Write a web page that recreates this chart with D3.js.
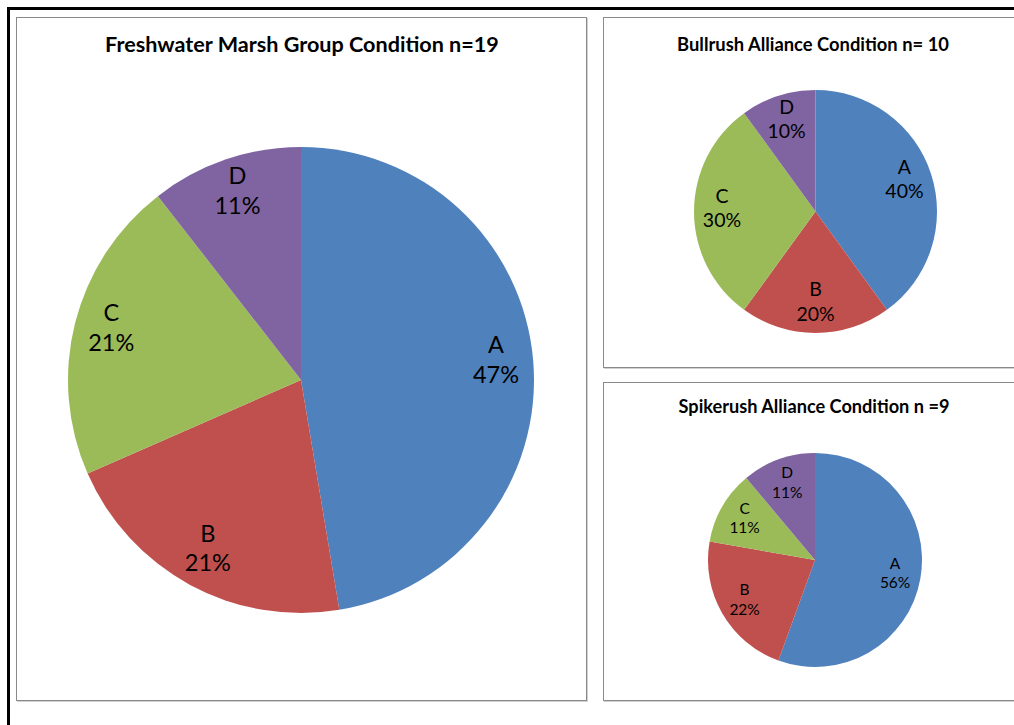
<!DOCTYPE html>
<html><head><meta charset="utf-8">
<script src="https://cdn.jsdelivr.net/npm/d3@7"></script>
<style>html,body{margin:0;padding:0;background:#fff;}svg{display:block;}</style>
</head><body>
<svg id="c" width="1014" height="725"></svg>
<script>
const categories = ["A", "B", "C", "D"];
const freshwaterCounts = [9, 4, 4, 2];
const bullrushCounts = [4, 2, 3, 1];
const spikerushCounts = [5, 2, 1, 1];
const titles = ["Freshwater Marsh Group Condition n=19", "Bullrush Alliance Condition n= 10", "Spikerush Alliance Condition n =9"];
const colors = ["#4F81BD", "#C0504D", "#9BBB59", "#8064A2"];

const svg = d3.select("#c");
const FONT = "Lato, 'Open Sans', sans-serif";

// outer frame
svg.append("rect").attr("x", 8.5).attr("y", 8.5).attr("width", 1030).attr("height", 740)
  .attr("fill", "none").attr("stroke", "#000").attr("stroke-width", 3);

function panel(x, y, w, h) {
  svg.append("rect").attr("x", x + 1.5).attr("y", y + 1.5).attr("width", w).attr("height", h)
    .attr("fill", "none").attr("stroke", "#d0d0d0").attr("stroke-width", 1);
  svg.append("rect").attr("x", x + 0.5).attr("y", y + 0.5).attr("width", w).attr("height", h)
    .attr("fill", "#fff").attr("stroke", "#8a8a8a").attr("stroke-width", 1);
}
panel(16, 17, 570, 683);
panel(603, 17, 430, 350);
panel(603, 382, 430, 318);

function fitText(sel, target) {
  const len = sel.node().getComputedTextLength();
  const fs = parseFloat(sel.attr("font-size"));
  sel.attr("font-size", fs * target / len);
}

function drawPie(counts, cfg) {
  const g = svg.append("g").attr("transform", `translate(${cfg.cx},${cfg.cy})`);
  const total = d3.sum(counts);
  const pie = d3.pie().sort(null).value(d => d)(counts);
  const arc = d3.arc().innerRadius(0).outerRadius(cfg.r);
  g.selectAll("path").data(pie).join("path")
    .attr("d", arc).attr("fill", (d, i) => colors[i]);
  const lab = d3.arc().innerRadius(cfg.r * cfg.k).outerRadius(cfg.r * cfg.k);
  pie.forEach((d, i) => {
    const [lx, ly] = lab.centroid(d);
    const t = g.append("text").attr("x", lx).attr("y", ly - cfg.up * cfg.fs)
      .attr("text-anchor", "middle").attr("font-family", FONT).attr("font-size", cfg.fs)
      .attr("fill", "#000");
    t.append("tspan").attr("x", lx).text(categories[i]);
    t.append("tspan").attr("x", lx).attr("dy", 1.26 * cfg.fs)
      .text(Math.round(d.value / total * 100) + "%");
  });
  const tt = svg.append("text").attr("x", cfg.tx).attr("y", cfg.ty).attr("text-anchor", "middle")
    .attr("font-family", FONT).attr("font-weight", "bold").attr("font-size", 18).attr("fill", "#000")
    .text(cfg.title);
  fitText(tt, cfg.tw);
}

drawPie(freshwaterCounts, {cx: 301, cy: 380, r: 233, k: 0.84, fs: 23.5, up: 0.45, title: titles[0], tx: 302, ty: 52, tw: 394});
drawPie(bullrushCounts, {cx: 815.5, cy: 211.5, r: 121.5, k: 0.77, fs: 19.5, up: 0.45, title: titles[1], tx: 813, ty: 51, tw: 272});
drawPie(spikerushCounts, {cx: 815, cy: 560, r: 107, k: 0.76, fs: 15.5, up: 0.35, title: titles[2], tx: 814, ty: 413, tw: 271});
</script>
</body></html>
